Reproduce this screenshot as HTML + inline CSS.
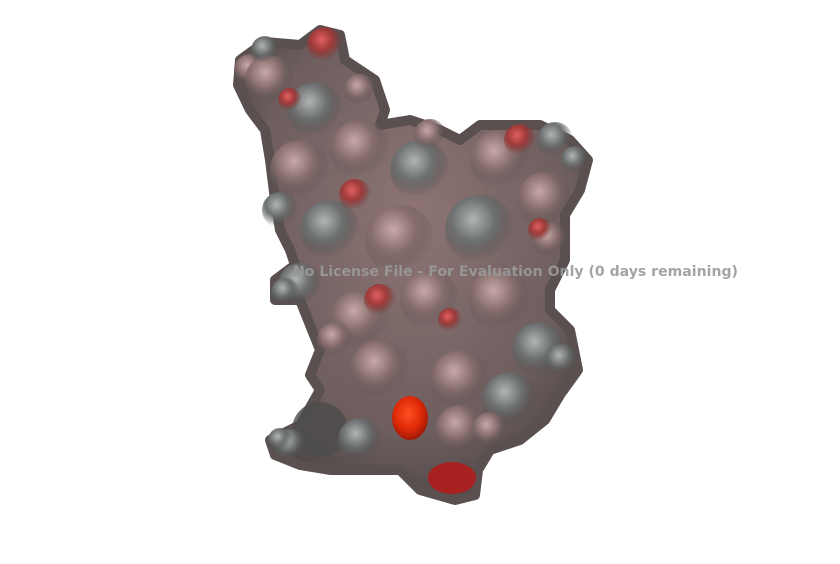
<!DOCTYPE html>
<html><head><meta charset="utf-8"><style>
html,body{margin:0;padding:0;background:#fff;width:840px;height:564px;overflow:hidden}
svg{display:block}
</style></head><body>
<svg width="840" height="564" viewBox="0 0 840 564">
<defs>
<radialGradient id="body" cx="50%" cy="40%" r="65%">
<stop offset="0" stop-color="#8e7474"/><stop offset="0.7" stop-color="#6e5e5e"/><stop offset="1" stop-color="#4a4444"/>
</radialGradient>
<radialGradient id="bump" cx="40%" cy="35%" r="60%">
<stop offset="0" stop-color="#c8a8a8"/><stop offset="0.5" stop-color="#8a7070"/><stop offset="1" stop-color="#5a4e4e" stop-opacity="0"/>
</radialGradient>
<radialGradient id="gbump" cx="40%" cy="35%" r="60%">
<stop offset="0" stop-color="#b0b4b4"/><stop offset="0.5" stop-color="#6f7272"/><stop offset="1" stop-color="#4a4c4c" stop-opacity="0"/>
</radialGradient>
<radialGradient id="rbump" cx="40%" cy="35%" r="60%">
<stop offset="0" stop-color="#e06060"/><stop offset="0.5" stop-color="#a03a3a"/><stop offset="1" stop-color="#7a3030" stop-opacity="0"/>
</radialGradient>
<radialGradient id="hot" cx="45%" cy="40%" r="60%">
<stop offset="0" stop-color="#ff5020"/><stop offset="0.6" stop-color="#e02a08"/><stop offset="1" stop-color="#a01808"/>
</radialGradient>
</defs>
<path fill="url(#body)" stroke="#5a5050" stroke-width="10" stroke-linejoin="round" d="M240,60 L265,42 L300,45 L320,30 L340,35 L345,60 L375,80 L385,110 L380,125 L410,120 L440,130 L460,140 L480,125 L510,125 L540,125 L570,140 L588,160 L580,190 L565,215 L565,260 L550,290 L550,310 L570,330 L578,370 L560,395 L545,420 L520,440 L490,450 L478,470 L475,495 L455,500 L420,490 L400,470 L370,470 L330,470 L300,465 L275,455 L270,440 L300,425 L320,390 L310,375 L320,350 L300,300 L275,300 L275,280 L295,265 L290,250 L280,230 L275,200 L270,160 L265,130 L250,110 L238,85 Z"/>
<g>
<circle cx="250" cy="70" r="16" fill="url(#bump)"/>
<circle cx="270" cy="80" r="25" fill="url(#bump)"/>
<circle cx="265" cy="50" r="14" fill="url(#gbump)"/>
<circle cx="360" cy="90" r="16" fill="url(#bump)"/>
<circle cx="315" cy="110" r="28" fill="url(#gbump)"/>
<circle cx="300" cy="170" r="30" fill="url(#bump)"/>
<circle cx="280" cy="210" r="18" fill="url(#gbump)"/>
<circle cx="360" cy="150" r="30" fill="url(#bump)"/>
<circle cx="420" cy="170" r="30" fill="url(#gbump)"/>
<circle cx="430" cy="135" r="16" fill="url(#bump)"/>
<circle cx="500" cy="160" r="30" fill="url(#bump)"/>
<circle cx="555" cy="140" r="18" fill="url(#gbump)"/>
<circle cx="575" cy="160" r="14" fill="url(#gbump)"/>
<circle cx="545" cy="200" r="28" fill="url(#bump)"/>
<circle cx="550" cy="240" r="18" fill="url(#bump)"/>
<circle cx="330" cy="230" r="30" fill="url(#gbump)"/>
<circle cx="400" cy="240" r="35" fill="url(#bump)"/>
<circle cx="480" cy="230" r="35" fill="url(#gbump)"/>
<circle cx="300" cy="285" r="22" fill="url(#gbump)"/>
<circle cx="285" cy="292" r="14" fill="url(#gbump)"/>
<circle cx="360" cy="320" r="30" fill="url(#bump)"/>
<circle cx="430" cy="300" r="30" fill="url(#bump)"/>
<circle cx="500" cy="300" r="32" fill="url(#bump)"/>
<circle cx="540" cy="350" r="28" fill="url(#gbump)"/>
<circle cx="562" cy="360" r="16" fill="url(#gbump)"/>
<circle cx="335" cy="340" r="18" fill="url(#bump)"/>
<circle cx="380" cy="370" r="30" fill="url(#bump)"/>
<circle cx="460" cy="380" r="30" fill="url(#bump)"/>
<circle cx="510" cy="400" r="28" fill="url(#gbump)"/>
<circle cx="320" cy="430" r="28" fill="#4e4c4c" opacity="0.8"/>
<circle cx="290" cy="445" r="16" fill="url(#gbump)"/>
<circle cx="280" cy="440" r="12" fill="url(#gbump)"/>
<circle cx="360" cy="440" r="22" fill="url(#gbump)"/>
<circle cx="460" cy="430" r="25" fill="url(#bump)"/>
<circle cx="490" cy="430" r="18" fill="url(#bump)"/>
<circle cx="325" cy="45" r="18" fill="url(#rbump)"/>
<circle cx="355" cy="195" r="16" fill="url(#rbump)"/>
<circle cx="380" cy="300" r="16" fill="url(#rbump)"/>
<circle cx="450" cy="320" r="12" fill="url(#rbump)"/>
<circle cx="520" cy="140" r="16" fill="url(#rbump)"/>
<circle cx="290" cy="100" r="12" fill="url(#rbump)"/>
<circle cx="540" cy="230" r="12" fill="url(#rbump)"/>
</g>
<ellipse cx="410" cy="418" rx="18" ry="22" fill="url(#hot)"/>
<ellipse cx="452" cy="478" rx="24" ry="16" fill="#a82020"/>
<text x="293" y="276" textLength="445" lengthAdjust="spacingAndGlyphs" font-family="'DejaVu Sans','Liberation Sans',sans-serif" font-weight="bold" font-size="14" fill="#9a9a9a" fill-opacity="0.9">No License File - For Evaluation Only (0 days remaining)</text>
</svg>
</body></html>
